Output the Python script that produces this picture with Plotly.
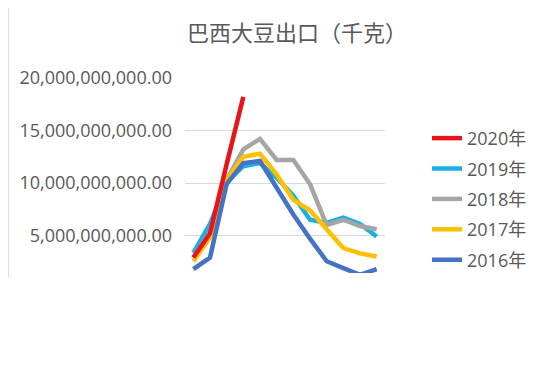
import plotly.graph_objects as go

months = list(range(1, 13))
years = ["2020年", "2019年", "2018年", "2017年", "2016年"]
colors = ["#E8141B", "#18B0E8", "#A5A5A5", "#FFC000", "#4472C4"]

# values in billions of kg
v2020 = [2.9, 5.2, 11.8, 18.2]
v2019 = [3.35, 6.1, 10.1, 11.6, 11.9, 10.5, 8.8, 6.5, 6.2, 6.7, 6.1, 4.9]
v2018 = [2.9, 5.3, 10.3, 13.2, 14.2, 12.2, 12.2, 9.9, 6.0, 6.5, 5.9, 5.6]
v2017 = [2.55, 4.8, 10.3, 12.5, 12.8, 10.8, 8.4, 7.4, 5.6, 3.8, 3.3, 3.0]
v2016 = [1.8, 2.9, 9.9, 11.9, 12.1, 9.6, 7.0, 4.7, 2.55, 1.9, 1.25, 1.8]

series = [v2020, v2019, v2018, v2017, v2016]
draw_order = [1, 2, 3, 4, 0]

fig = go.Figure()
for i in draw_order:
    vals = series[i]
    fig.add_trace(go.Scatter(
        x=months[:len(vals)],
        y=[v * 1e9 for v in vals],
        mode="lines",
        name=years[i],
        legendrank=i + 1,
        legendgroup=years[i],
        line=dict(color=colors[i], width=4.5),
        hoverinfo="skip",
    ))

fig.update_layout(
    width=550, height=367,
    margin=dict(l=177, r=173, t=70, b=102),
    paper_bgcolor="white", plot_bgcolor="white",
    title=dict(text="巴西大豆出口（千克）", x=289/550, xanchor="center",
               y=1 - 25/367, yanchor="middle",
               font=dict(family="Noto Sans CJK SC", size=22, color="#595959")),
    xaxis=dict(range=[0.5, 12.5], visible=False),
    yaxis=dict(range=[1.43e9, 20e9], tickvals=[5e9, 10e9, 15e9, 20e9],
               tickformat=",.2f", showgrid=True, gridcolor="#D9D9D9", gridwidth=1,
               zeroline=False, showline=False, ticklabelstandoff=12,
               tickfont=dict(family="Open Sans", size=18, color="#595959")),
    legend=dict(x=1.21, xanchor="left", y=0.785, yanchor="top",
                font=dict(family="Open Sans, Noto Sans CJK SC", size=18, color="#595959"),
                tracegroupgap=4, bgcolor="rgba(0,0,0,0)"),
    shapes=[
        dict(type="line", xref="paper", yref="paper", x0=-0.882, x1=-0.882,
             y0=-0.02, y1=1.36, line=dict(color="#D9D9D9", width=1)),
        dict(type="line", xref="paper", yref="paper", x0=1.8, x1=1.8,
             y0=-0.02, y1=1.36, line=dict(color="#E6E6E6", width=1)),
    ],
)

fig.write_html("out.html")
